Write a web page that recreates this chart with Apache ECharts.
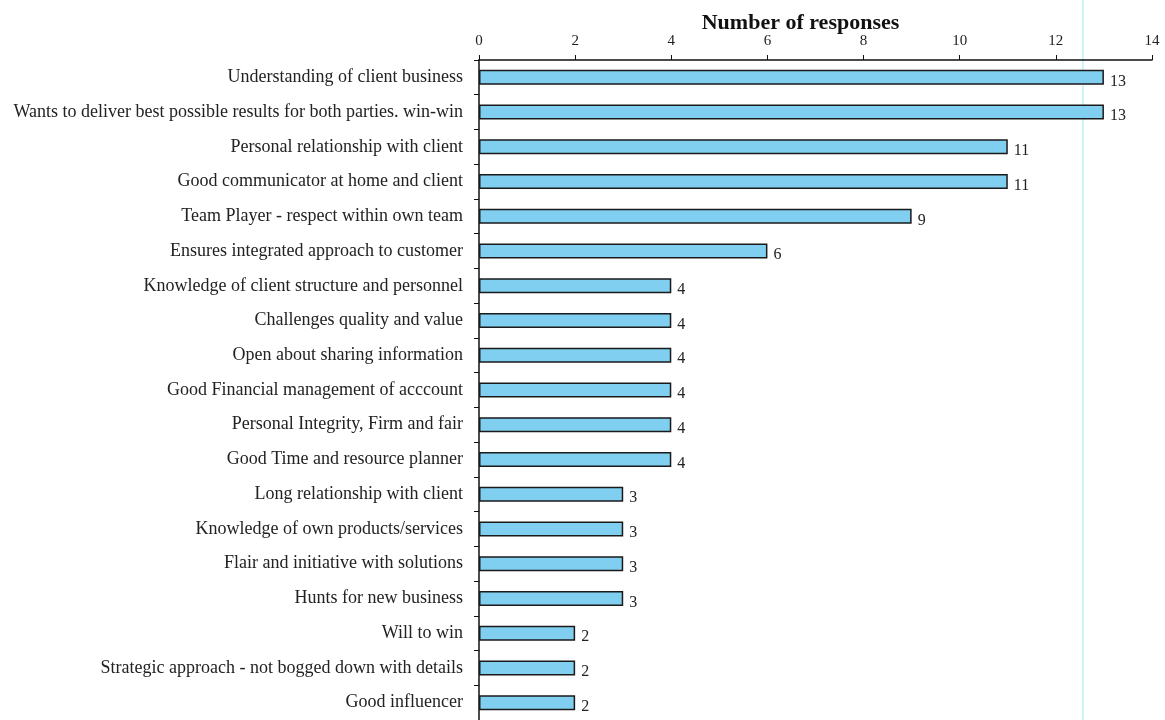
<!DOCTYPE html>
<html>
<head>
<meta charset="utf-8">
<script src="https://cdn.jsdelivr.net/npm/echarts@6/dist/echarts.min.js"></script>
<style>
  html, body { margin: 0; padding: 0; background: #fff; }
  #chart { width: 1165px; height: 720px; }
</style>
</head>
<body>
<div id="chart"></div>
<script>
const categories = [
  "Understanding of client business",
  "Wants to deliver best possible results for both parties. win-win",
  "Personal relationship with client",
  "Good communicator at home and client",
  "Team Player - respect within own team",
  "Ensures integrated approach to customer",
  "Knowledge of client structure and personnel",
  "Challenges quality and value",
  "Open about sharing information",
  "Good Financial management of acccount",
  "Personal Integrity, Firm and fair",
  "Good Time and resource planner",
  "Long relationship with client",
  "Knowledge of own products/services",
  "Flair and initiative with solutions",
  "Hunts for new business",
  "Will to win",
  "Strategic approach - not bogged down with details",
  "Good influencer"
];
const responses = [13, 13, 11, 11, 9, 6, 4, 4, 4, 4, 4, 4, 3, 3, 3, 3, 2, 2, 2];
const axisTitle = "Number of responses";

const serif = '"Liberation Serif", "DejaVu Serif", serif';
const chart = echarts.init(document.getElementById("chart"));

chart.setOption({
  animation: false,
  backgroundColor: "#fff",
  grid: { left: 479, right: 13, top: 60, height: 667 },
  xAxis: {
    type: "value",
    position: "top",
    min: 0, max: 14, interval: 2,
    name: axisTitle,
    nameLocation: "middle",
    nameGap: 26,
    nameMoveOverlap: false,
    nameTextStyle: { fontFamily: serif, fontSize: 22, fontWeight: "bold", color: "#111", padding: [0, 30, 0, 0] },
    axisLine: { show: true, lineStyle: { color: "#111", width: 1.5 } },
    axisTick: { show: true, length: 5, lineStyle: { color: "#111" } },
    axisLabel: { fontFamily: serif, fontSize: 15, color: "#222", margin: 11 },
    splitLine: { show: false }
  },
  yAxis: {
    type: "category",
    inverse: true,
    data: categories,
    axisLine: { show: true, lineStyle: { color: "#111", width: 1.5 } },
    axisTick: { show: true, length: 5, lineStyle: { color: "#111" } },
    axisLabel: { fontFamily: serif, fontSize: 18, color: "#222", margin: 16 }
  },
  graphic: [{
    type: "line",
    shape: { x1: 1083, y1: 0, x2: 1083, y2: 720 },
    style: { stroke: "#bdf1f5", lineWidth: 1.5 },
    z: -1
  }],
  series: [{
    type: "bar",
    data: responses,
    barWidth: 15,
    itemStyle: { color: "#80cff0", borderColor: "#1a1a1a", borderWidth: 1.5 },
    label: {
      show: true,
      position: "right",
      distance: 6,
      offset: [0, 4],
      fontFamily: serif,
      fontSize: 16,
      color: "#222"
    }
  }]
});
</script>
</body>
</html>
